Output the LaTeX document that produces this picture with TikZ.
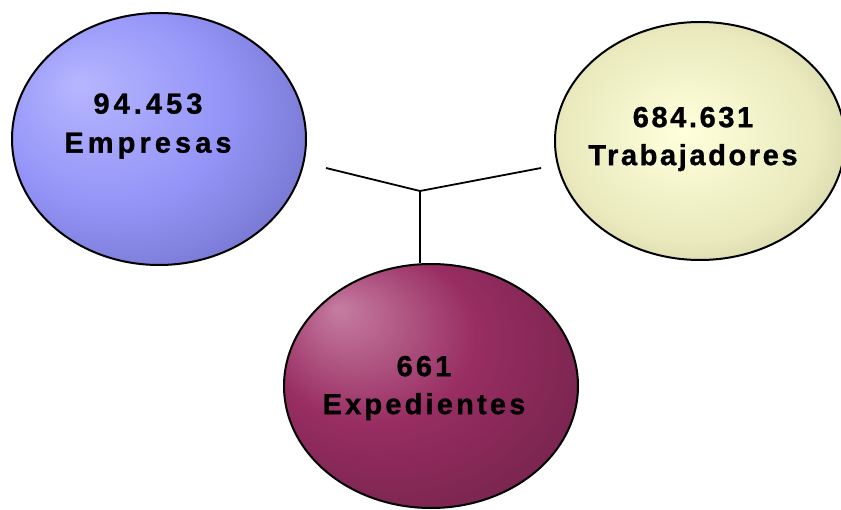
\documentclass[tikz,border=0pt]{standalone}
\usepackage{fontspec}
\newfontfamily\labA[LetterSpace=14,FakeBold=1]{Liberation Sans Bold}
\newfontfamily\labB[LetterSpace=9,FakeBold=1]{Liberation Sans Bold}
\newfontfamily\labC[LetterSpace=11,FakeBold=1]{Liberation Sans Bold}
\usetikzlibrary{shapes.geometric}
\definecolor{bhi}{RGB}{182,182,255}
\definecolor{bmid}{RGB}{148,148,248}
\definecolor{bedge}{RGB}{82,82,158}
\definecolor{yhi}{RGB}{255,255,220}
\definecolor{ymid}{RGB}{234,234,190}
\definecolor{yedge}{RGB}{160,160,120}
\definecolor{mhi}{RGB}{198,125,162}
\definecolor{mmid}{RGB}{152,45,98}
\definecolor{medge}{RGB}{88,28,58}
\pgfdeclareradialshading{blueball}{\pgfpoint{-14bp}{11bp}}{color(0bp)=(bhi); color(20bp)=(bmid); color(50bp)=(bedge)}
\pgfdeclareradialshading{yellowball}{\pgfpoint{-3bp}{2bp}}{color(0bp)=(yhi); color(22bp)=(ymid); color(50bp)=(yedge)}
\pgfdeclareradialshading{maroonball}{\pgfpoint{-16bp}{16bp}}{color(0bp)=(mhi); color(18bp)=(mmid); color(50bp)=(medge)}
\begin{document}
\begin{tikzpicture}[x=1pt,y=-1pt,
  bubble/.style={ellipse, draw=black, line width=2pt, inner sep=0pt},
  lab/.style={align=center, text=black, inner sep=0pt},
  link/.style={draw=black, line width=1.8pt}]
\useasboundingbox (0,0) rectangle (841,510);
% connectors
\coordinate (jn) at (420,191);
\coordinate (lend) at (326,168);
\coordinate (rend) at (541,168);
% bubbles
\node[bubble, shading=blueball, minimum width=294pt, minimum height=252pt] (emp) at (159,139) {};
\node[bubble, shading=yellowball, minimum width=290pt, minimum height=238pt] (trab) at (700,141) {};
\node[bubble, shading=maroonball, minimum width=294pt, minimum height=244pt] (expd) at (431,386) {};
\draw[link] (lend) -- (jn) -- (rend);
\draw[link] (jn) -- (jn |- expd.north);
% labels
\node[lab, font=\labA\fontsize{29}{39}\selectfont] (emptext) at (148,126) {94.453\\Empresas};
\node[lab, font=\labB\fontsize{29}{38}\selectfont] (trabtext) at (693,139) {684.631\\Trabajadores};
\node[lab, font=\labC\fontsize{29}{38}\selectfont] (expdtext) at (424,388) {661\\Expedientes};
\end{tikzpicture}
\end{document}
